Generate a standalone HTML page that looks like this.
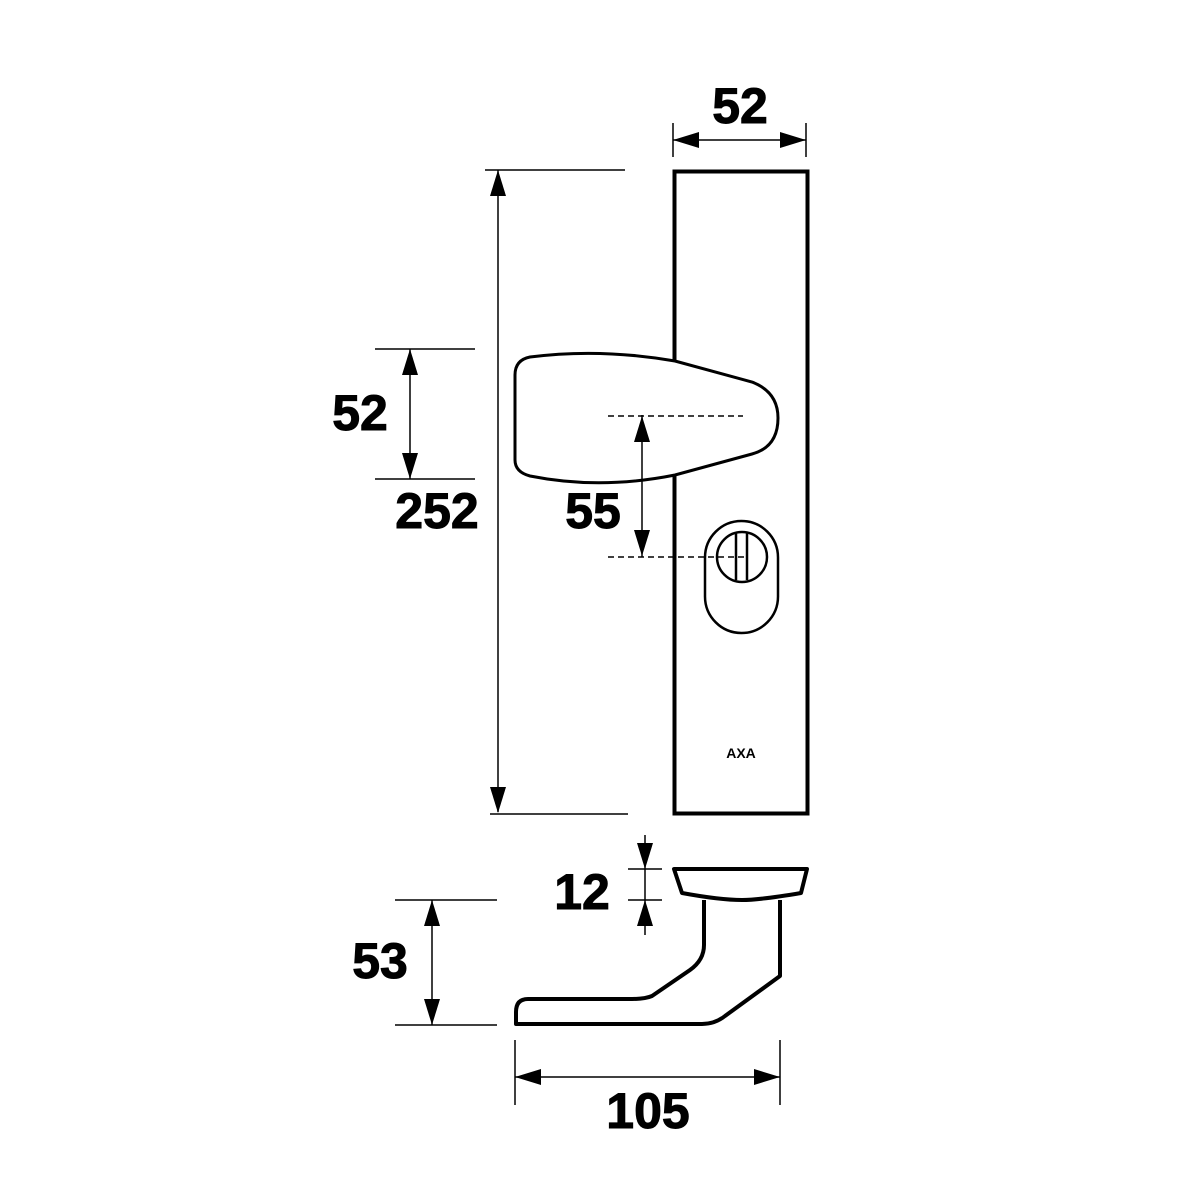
<!DOCTYPE html>
<html><head><style>html,body{margin:0;padding:0;background:#fff}svg{display:block}</style></head>
<body>
<svg width="1181" height="1181" viewBox="0 0 1181 1181" xmlns="http://www.w3.org/2000/svg">
<g font-family="Liberation Sans, sans-serif" font-weight="bold" text-anchor="middle" fill="#000">
<g stroke="#000" stroke-width="1.5" fill="none">
<line x1="673" y1="123" x2="673" y2="157"/><line x1="806" y1="123" x2="806" y2="157"/>
<line x1="673" y1="140" x2="806" y2="140"/>
<line x1="485" y1="170" x2="625" y2="170"/><line x1="490" y1="814" x2="628" y2="814"/>
<line x1="498" y1="170" x2="498" y2="812"/>
<line x1="375" y1="349" x2="475" y2="349"/><line x1="375" y1="479" x2="475" y2="479"/>
<line x1="410" y1="349" x2="410" y2="479"/>
<line x1="395" y1="900" x2="497" y2="900"/><line x1="395" y1="1025" x2="497" y2="1025"/>
<line x1="432" y1="900" x2="432" y2="1025"/>
<line x1="515" y1="1040" x2="515" y2="1105"/><line x1="780" y1="1040" x2="780" y2="1105"/>
<line x1="515" y1="1077" x2="780" y2="1077"/>
<line x1="628" y1="869" x2="662" y2="869"/><line x1="628" y1="900" x2="662" y2="900"/>
<line x1="645" y1="835" x2="645" y2="935"/>
</g>
<g>
<path d="M673,140 l26,-8 v16z"/><path d="M806,140 l-26,-8 v16z"/>
<path d="M498,170 l-8,26 h16z"/><path d="M498,813 l-8,-26 h16z"/>
<path d="M410,349 l-8,26 h16z"/><path d="M410,479 l-8,-26 h16z"/>
<path d="M432,900 l-8,26 h16z"/><path d="M432,1025 l-8,-26 h16z"/>
<path d="M515,1077 l26,-8 v16z"/><path d="M780,1077 l-26,-8 v16z"/>
<path d="M645,869 l-8,-26 h16z"/><path d="M645,900 l-8,26 h16z"/>
</g>
<rect x="674.5" y="171.5" width="133" height="642" fill="#fff" stroke="#000" stroke-width="4"/>
<path d="M530 357 Q 600 348 675 361 L 752 382 Q 778 392 778 418 Q 778 447 752 454 L 675 475 Q 600 490 530 476 Q 515 472 515 460 L 515 375 Q 515 360 530 357 Z" fill="#fff" stroke="#000" stroke-width="3"/>
<g stroke="#000" stroke-width="1.5" stroke-dasharray="6,4" fill="none">
<line x1="608" y1="416" x2="743" y2="416"/>
<line x1="608" y1="557" x2="745" y2="557"/>
</g>
<line x1="642" y1="415" x2="642" y2="557" stroke="#000" stroke-width="1.5"/>
<path d="M642,416 l-8,26 h16z"/><path d="M642,556 l-8,-26 h16z"/>
<rect x="705" y="521" width="73" height="112" rx="36.5" fill="none" stroke="#000" stroke-width="2.5"/>
<circle cx="742" cy="557" r="25" fill="none" stroke="#000" stroke-width="2.5"/>
<line x1="736" y1="533" x2="736" y2="580" stroke="#000" stroke-width="2.5"/>
<line x1="747" y1="533" x2="747" y2="580" stroke="#000" stroke-width="2.5"/>
<text x="741" y="758" font-size="14">AXA</text>
<path d="M674 869 L807 869 L801 893 Q 760 900 742 900 Q 720 900 682 893 Z" fill="#fff" stroke="#000" stroke-width="4" stroke-linejoin="round"/>
<path d="M704 900 L704 945 Q 704 960 690 970 L 652 996 Q 645 999 632 999 L 528 999 Q 516 999 516 1012 L 516 1024 L 702 1024 Q 715 1024 725 1016 L 780 976 L 780 900" fill="none" stroke="#000" stroke-width="4" stroke-linejoin="round"/>
<g font-size="50" stroke="#000" stroke-width="1">
<text x="740" y="123">52</text>
<text x="437" y="528">252</text>
<text x="360" y="430">52</text>
<text x="593" y="528">55</text>
<text x="582" y="909">12</text>
<text x="380" y="978">53</text>
<text x="648" y="1128">105</text>
</g>
</g>
</svg>
</body></html>
